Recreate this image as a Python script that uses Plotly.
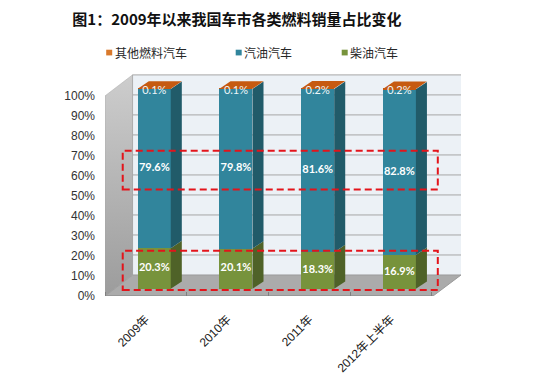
import plotly.graph_objects as go

# ---------------- data ----------------
categories = ["2009年", "2010年", "2011年", "2012年上半年"]
series_names = ["其他燃料汽车", "汽油汽车", "柴油汽车"]
other = [0.1, 0.1, 0.2, 0.2]
gasoline = [79.6, 79.8, 81.6, 82.8]
diesel = [20.3, 20.1, 18.3, 16.9]
y_tick_values = [0, 10, 20, 30, 40, 50, 60, 70, 80, 90, 100]
y_tick_labels = [f"{v}%" for v in y_tick_values]

# ---------------- styling / geometry ----------------
W, H = 550, 387
ML, MR, MT, MB = 105, 89, 74, 80
X_MIN, X_MAX = -0.5, 3.857
Y_MIN, Y_MAX = 0, 110.95
WALL_DX, WALL_DY = 0.337, 10.5
FLOOR_RIGHT = 3.515
BAR_SHIFT, BAR_BASE, BAR_W = 0.103, 3.6, 0.404
BAR_DX, BAR_DY = 0.135, 3.7

C_OTHER, C_OTHER_TOP = "#D9792B", "#C65A11"
C_GAS, C_GAS_SIDE = "#31859C", "#215B69"
C_DIE, C_DIE_SIDE = "#77933C", "#4F6228"
CN_FONT = "Noto Sans CJK SC"
LAT_FONT = "Liberation Sans, Noto Sans CJK SC"

fig = go.Figure()
shapes = []

# back wall
bx0 = X_MIN + WALL_DX
shapes.append(dict(type="path", layer="below", xref="x", yref="y",
                   path=f"M{bx0},{WALL_DY} L{X_MAX},{WALL_DY} L{X_MAX},{100 + WALL_DY} L{bx0},{100 + WALL_DY} Z",
                   fillcolor="#ECF1F6", line=dict(width=0)))
# floor
shapes.append(dict(type="path", layer="below", xref="x", yref="y",
                   path=f"M{X_MIN},0 L{FLOOR_RIGHT},0 L{X_MAX},{WALL_DY} L{bx0},{WALL_DY} Z",
                   fillcolor="#ABABAB", line=dict(color="#9A9A9A", width=1)))
# back-wall gridlines
for v in y_tick_values[1:]:
    shapes.append(dict(type="line", layer="below", xref="x", yref="y",
                       x0=bx0, x1=X_MAX, y0=v + WALL_DY, y1=v + WALL_DY,
                       line=dict(color="#A6A6A6", width=1)))
# back wall left edge
shapes.append(dict(type="line", layer="below", xref="x", yref="y",
                   x0=bx0, x1=bx0, y0=WALL_DY, y1=100 + WALL_DY,
                   line=dict(color="#B0B0B0", width=1)))

# left side wall (gradient)
fig.add_trace(go.Scatter(
    x=[X_MIN, X_MIN, bx0, bx0, X_MIN], y=[0, 100, 100 + WALL_DY, WALL_DY, 0],
    mode="lines", fill="toself", line=dict(width=0.5, color="#A0A0A0"),
    fillgradient=dict(type="vertical", colorscale=[[0, "#9C9C9C"], [1, "#CDCDCD"]]),
    hoverinfo="skip", showlegend=False))

# ---------------- bars (front faces) ----------------
x_pos = [i + BAR_SHIFT for i in range(len(categories))]
base_die = [BAR_BASE] * len(categories)
base_gas = [BAR_BASE + d for d in diesel]
base_oth = [BAR_BASE + d + g for d, g in zip(diesel, gasoline)]

for name, vals, bases, col in [
    (series_names[2], diesel, base_die, C_DIE),
    (series_names[1], gasoline, base_gas, C_GAS),
    (series_names[0], other, base_oth, C_OTHER_TOP),
]:
    fig.add_trace(go.Bar(x=x_pos, y=vals, base=bases, width=BAR_W, name=name,
                         marker=dict(color=col, line=dict(width=0)),
                         showlegend=False, hoverinfo="skip"))

# side and top faces (3D look), computed from the data
for i, xc in enumerate(x_pos):
    xl, xr = xc - BAR_W / 2, xc + BAR_W / 2
    segs = [(base_die[i], base_die[i] + diesel[i], C_DIE_SIDE),
            (base_gas[i], base_gas[i] + gasoline[i], C_GAS_SIDE),
            (base_oth[i], base_oth[i] + other[i], C_OTHER_TOP)]
    for b, t, col in segs:
        fig.add_trace(go.Scatter(
            x=[xr, xr + BAR_DX, xr + BAR_DX, xr, xr],
            y=[b, b + BAR_DY, t + BAR_DY, t, b],
            mode="lines", fill="toself", fillcolor=col, line=dict(width=0, color=col),
            hoverinfo="skip", showlegend=False))
    top = base_oth[i] + other[i]
    fig.add_trace(go.Scatter(
        x=[xl, xr, xr + BAR_DX, xl + BAR_DX, xl],
        y=[top, top, top + BAR_DY, top + BAR_DY, top],
        mode="lines", fill="toself", fillcolor=C_OTHER_TOP, line=dict(width=0, color=C_OTHER_TOP),
        hoverinfo="skip", showlegend=False))

# data labels
fig.add_trace(go.Scatter(
    x=x_pos, y=[b + d / 2 for b, d in zip(base_die, diesel)], mode="text",
    text=[f"<b>{v:.1f}%</b>" for v in diesel],
    textfont=dict(color="white", size=11, family="Lato"), hoverinfo="skip", showlegend=False))
fig.add_trace(go.Scatter(
    x=x_pos, y=[b + g / 2 for b, g in zip(base_gas, gasoline)], mode="text",
    text=[f"<b>{v:.1f}%</b>" for v in gasoline],
    textfont=dict(color="white", size=11, family="Lato"), hoverinfo="skip", showlegend=False))
fig.add_trace(go.Scatter(
    x=x_pos, y=[b + o - 1.3 for b, o in zip(base_oth, other)], mode="text",
    text=[f"{v:.1f}%" for v in other],
    textfont=dict(color="#EEF6F8", size=11, family="Lato"), hoverinfo="skip", showlegend=False))

# highlight boxes
for y0, y1 in [(53.2, 72.6), (3.0, 22.6)]:
    shapes.append(dict(type="rect", layer="above", xref="x", yref="y",
                       x0=-0.283, x1=3.573, y0=y0, y1=y1,
                       line=dict(color="#E3141B", width=2, dash="7px,4px")))

# floor front edge
shapes.append(dict(type="line", layer="below", xref="x", yref="y",
                   x0=X_MIN, x1=FLOOR_RIGHT, y0=0, y1=0, line=dict(color="#8C8C8C", width=1)))

# ---------------- manual legend ----------------
pw, ph = W - ML - MR, H - MT - MB
def px_x(px):
    return (px - ML) / pw
def px_y(py):
    return (H - MB - py) / ph

annotations = []
legend_items = [(series_names[0], C_OTHER, 109.2), (series_names[1], C_GAS, 238.7), (series_names[2], C_DIE, 344.7)]
for name, col, cx in legend_items:
    shapes.append(dict(type="rect", xref="paper", yref="paper", layer="above",
                       x0=px_x(cx - 3), x1=px_x(cx + 3), y0=px_y(54.5), y1=px_y(48.5),
                       fillcolor=col, line=dict(width=0)))
    annotations.append(dict(xref="paper", yref="paper", x=px_x(cx + 3.5), y=px_y(51.5),
                            xanchor="left", yanchor="middle", showarrow=False, text=name,
                            font=dict(family=CN_FONT, size=12, color="#262626")))

fig.update_layout(
    width=W, height=H,
    margin=dict(l=ML, r=MR, t=MT, b=MB),
    paper_bgcolor="white", plot_bgcolor="white",
    barmode="overlay", bargap=0,
    title=dict(text="<b>图1：2009年以来我国车市各类燃料销量占比变化</b>",
               x=237 / W, xanchor="center", y=1 - 20 / H, yanchor="middle",
               font=dict(family=CN_FONT, size=15, color="#111111")),
    xaxis=dict(range=[X_MIN, X_MAX], showgrid=False, zeroline=False, showline=False,
               tickmode="array", tickvals=list(range(len(categories))), ticktext=categories,
               tickangle=-45, ticks="", ticklabelstandoff=13,
               tickfont=dict(family=LAT_FONT, size=12, color="#1a1a1a"),
               minor=dict(tickmode="array", tickvals=[-0.5, 0.5, 1.5, 2.5, 3.5], ticks="inside",
                          ticklen=4, tickcolor="#7F7F7F", showgrid=False),
               fixedrange=True),
    yaxis=dict(range=[Y_MIN, Y_MAX], showgrid=False, zeroline=False, showline=False,
               tickmode="array", tickvals=y_tick_values, ticktext=y_tick_labels, ticks="",
               ticklabelstandoff=9, tickfont=dict(family=LAT_FONT, size=12, color="#333333"),
               fixedrange=True),
    shapes=shapes, annotations=annotations,
)

fig.write_html("out.html", config={"displayModeBar": False},
               post_script="document.body.style.margin='0';")
